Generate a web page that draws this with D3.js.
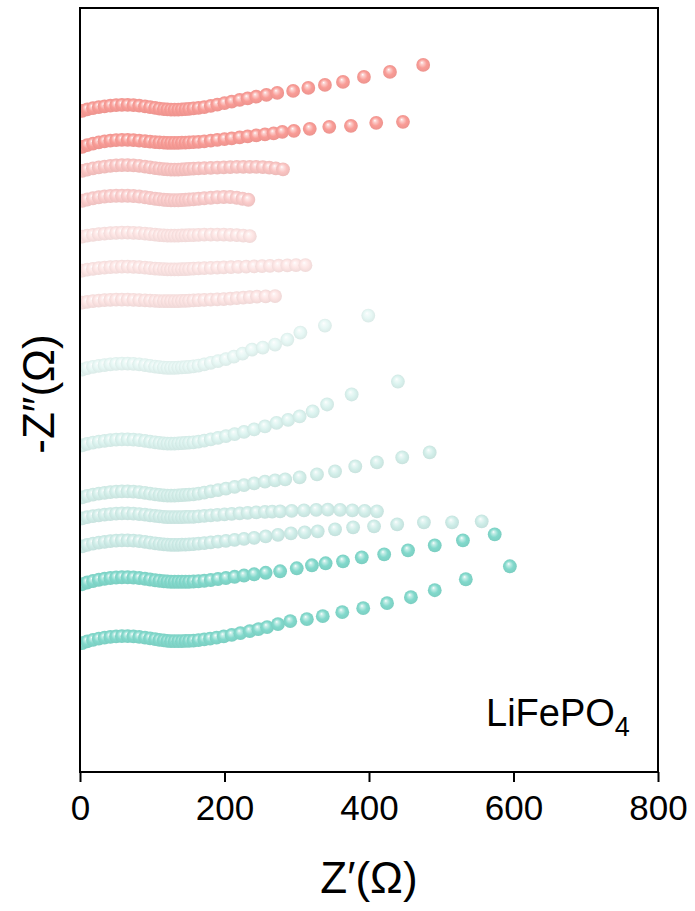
<!DOCTYPE html>
<html>
<head>
<meta charset="utf-8">
<script src="https://cdn.jsdelivr.net/npm/d3@7/dist/d3.min.js"></script>
<style>
  body { margin: 0; background: #fff; }
  text { font-family: "Liberation Sans", Arial, sans-serif; fill: #000; }
</style>
</head>
<body>
<svg id="chart" width="695" height="911"></svg>
<script>
// Stacked Nyquist plots, each curve is [Z', -Z''] in ohms, shifted up by its offset.
const xTicks = [0, 200, 400, 600, 800];
const xTickLabels = ["0", "200", "400", "600", "800"];

const series1 = [[3,0],[10,6],[18,11],[26,15],[34,18],[42,21],[50,23],[58,24],[66,24],[74,23],[82,21],[90,18],[97,15],[104,12],[110,9],[116,7],[121,6],[126,5],[131,5],[136,5],[141,6],[146,7],[151,8],[157,10],[164,12],[172,15],[181,20],[190,25],[200,31],[210,37],[221,44],[232,50],[244,57],[258,64],[273,72],[295,80],[316,92],[339,104],[364,116],[393,136],[429,156],[475,184]];
const series2 = [[3,0],[10,7],[18,13],[26,18],[34,22],[42,25],[50,27],[58,28],[66,28],[74,27],[82,25],[90,23],[97,21],[104,19],[110,18],[116,17],[121,16],[126,16],[131,16],[136,16],[141,17],[146,17],[151,18],[157,19],[164,20],[172,22],[181,25],[190,28],[200,31],[210,34],[221,38],[232,42],[244,46],[256,50],[268,54],[280,60],[296,64],[318,72],[345,80],[375,84],[410,96],[447,100]];
const series3 = [[3,0],[10,5],[18,10],[26,14],[34,17],[42,20],[50,22],[58,23],[66,23],[74,22],[82,20],[90,17],[97,14],[104,11],[110,9],[116,7],[121,6],[126,5],[131,5],[136,5],[141,6],[146,7],[151,8],[157,9],[164,10],[172,11],[181,12],[190,13],[199,14],[208,15],[217,16],[226,16],[235,16],[244,16],[253,15],[262,13],[271,10],[281,6]];
const series4 = [[3,0],[10,5],[18,10],[26,14],[34,17],[42,19],[50,20],[58,20],[66,20],[74,19],[82,17],[90,14],[97,11],[104,8],[110,6],[116,4],[121,3],[126,2],[131,2],[136,2],[141,3],[146,4],[151,5],[157,6],[164,8],[172,10],[181,12],[190,14],[199,15],[208,15],[217,12],[225,8],[233,4]];
const series5 = [[3,0],[10,4],[18,7],[26,10],[34,12],[42,14],[50,15],[58,16],[66,16],[74,15],[82,14],[90,12],[97,10],[104,8],[110,6],[116,5],[121,4],[126,4],[131,4],[136,4],[141,5],[146,5],[151,6],[157,6],[164,7],[172,8],[181,8],[190,8],[199,8],[208,7],[217,6],[226,4],[235,2]];
const series6 = [[3,0],[10,4],[18,7],[26,10],[34,12],[42,14],[50,15],[58,16],[66,16],[74,15],[82,14],[90,12],[97,10],[104,8],[110,7],[116,6],[121,5],[126,5],[131,5],[136,5],[141,6],[146,6],[151,7],[157,8],[164,9],[172,10],[181,11],[190,12],[199,13],[209,14],[219,15],[230,16],[241,17],[252,18],[263,19],[275,20],[287,21],[299,22],[312,22]];
const series7 = [[3,0],[10,3],[18,6],[26,8],[34,10],[42,11],[50,12],[58,12],[66,12],[74,11],[82,10],[90,9],[97,8],[104,7],[110,6],[116,6],[121,6],[126,6],[131,6],[136,6],[141,7],[146,7],[151,8],[157,9],[164,10],[172,11],[181,12],[190,13],[199,14],[208,16],[217,18],[226,20],[235,22],[245,24],[257,25],[270,26]];
const series8 = [[3,0],[10,6],[18,11],[26,15],[34,18],[42,21],[50,23],[58,24],[66,24],[74,23],[82,21],[90,18],[97,15],[104,12],[110,10],[116,8],[121,7],[126,7],[131,7],[136,8],[141,9],[146,10],[151,11],[157,13],[164,16],[172,21],[181,27],[191,34],[202,42],[213,52],[225,64],[238,80],[253,88],[270,100],[287,120],[305,148],[339,176],[399,216]];
const series9 = [[3,0],[10,6],[18,11],[26,15],[34,18],[42,21],[50,23],[58,24],[66,24],[74,23],[82,21],[90,18],[97,15],[104,12],[110,10],[116,8],[121,7],[126,7],[131,7],[136,8],[141,9],[146,10],[151,11],[157,12],[164,15],[172,19],[181,24],[191,30],[202,37],[214,45],[227,54],[241,64],[256,76],[272,90],[288,102],[304,116],[322,136],[342,164],[376,204],[440,256]];
const series10 = [[3,0],[10,6],[18,11],[26,15],[34,18],[42,21],[50,23],[58,24],[66,24],[74,23],[82,21],[90,18],[97,15],[104,12],[110,10],[116,8],[121,7],[126,7],[131,7],[136,8],[141,9],[146,10],[151,11],[157,12],[164,15],[172,19],[181,24],[191,29],[202,35],[214,42],[227,49],[241,56],[256,63],[270,68],[284,72],[304,80],[328,92],[353,104],[381,124],[411,140],[446,160],[484,180]];
const series11 = [[3,0],[10,5],[18,9],[26,12],[34,15],[42,17],[50,19],[58,20],[66,20],[74,19],[82,17],[90,15],[97,12],[104,10],[110,8],[116,6],[121,5],[126,5],[131,5],[136,5],[141,5],[146,6],[151,6],[157,6],[164,8],[172,10],[181,12],[190,14],[200,16],[210,18],[221,20],[232,22],[244,24],[256,26],[266,27],[277,28],[293,30],[310,32],[327,34],[343,35],[360,34],[377,32],[394,30],[411,28]];
const series12 = [[3,0],[10,6],[18,11],[26,15],[34,18],[42,21],[50,23],[58,24],[66,24],[74,23],[82,21],[90,18],[97,15],[104,12],[110,10],[116,8],[121,7],[126,6],[131,6],[136,6],[141,7],[146,7],[151,8],[157,9],[164,11],[172,13],[181,16],[191,19],[202,22],[214,26],[227,30],[241,34],[257,40],[274,46],[292,52],[311,56],[329,60],[353,68],[378,76],[407,80],[439,88],[476,96],[515,96],[556,100]];
const series13 = [[3,0],[10,7],[18,13],[26,18],[34,22],[42,25],[50,27],[58,28],[66,28],[74,27],[82,25],[90,22],[97,19],[104,16],[110,14],[116,12],[121,11],[126,10],[131,10],[136,10],[141,10],[146,10],[151,10],[157,11],[164,12],[172,14],[181,17],[191,21],[202,25],[214,30],[227,35],[241,40],[257,46],[277,52],[300,64],[321,76],[340,84],[364,92],[390,108],[421,120],[454,136],[491,156],[530,176],[574,200]];
const series14 = [[3,0],[10,7],[18,13],[26,18],[34,22],[42,25],[50,27],[58,28],[66,28],[74,27],[82,25],[90,22],[97,19],[104,16],[110,13],[116,11],[121,9],[126,8],[131,8],[136,8],[141,8],[146,9],[151,9],[157,10],[164,12],[172,15],[180,18],[189,22],[199,27],[210,33],[222,40],[235,48],[247,56],[259,64],[274,76],[291,88],[314,96],[336,108],[363,124],[392,140],[425,160],[458,184],[491,212],[534,256],[595,308]];

const seriesList = [series1, series2, series3, series4, series5, series6, series7,
                    series8, series9, series10, series11, series12, series13, series14];
// vertical shift applied to each curve so the stack does not overlap
const offsets = [2648, 2504, 2408, 2288, 2144, 2008, 1880, 1612, 1308, 1100, 1016, 904, 752, 516];
const colors = ["#F99C96", "#F99C96", "#FAC4C2", "#FBCCCB", "#FDE4E3", "#FDE5E4", "#FCE3E2",
                "#E6F7F4", "#DBF3EF", "#D3EFEA", "#D1EEE9", "#CEEDE8", "#82D9CC", "#82D9CC"];

const W = 695, H = 911;
const margin = { left: 80, right: 37, top: 8, bottom: 139 };
const plotW = W - margin.left - margin.right;
const plotH = H - margin.top - margin.bottom;

const svg = d3.select("#chart");
const defs = svg.append("defs");

const x = d3.scaleLinear().domain([0, 800]).range([margin.left, margin.left + plotW]);
const y = d3.scaleLinear().domain([0, 3060]).range([margin.top + plotH, margin.top]);

// shaded-sphere look for the markers
colors.forEach((c, i) => {
  const g = defs.append("radialGradient")
    .attr("id", "ball" + i)
    .attr("cx", "50%").attr("cy", "50%").attr("r", "55%")
    .attr("fx", "40%").attr("fy", "32%");
  const base = d3.color(c);
  g.append("stop").attr("offset", "0%").attr("stop-color", "#ffffff");
  g.append("stop").attr("offset", "18%").attr("stop-color", d3.interpolateRgb(c, "#ffffff")(0.55));
  g.append("stop").attr("offset", "55%").attr("stop-color", c);
  g.append("stop").attr("offset", "100%").attr("stop-color", base.darker(0.18).formatHex());
});

defs.append("clipPath").attr("id", "plotClip")
  .append("rect")
  .attr("x", margin.left).attr("y", margin.top)
  .attr("width", plotW).attr("height", plotH);

const marks = svg.append("g").attr("clip-path", "url(#plotClip)");
seriesList.forEach((data, i) => {
  marks.append("g")
    .selectAll("circle")
    .data(data)
    .join("circle")
    .attr("cx", d => x(d[0]))
    .attr("cy", d => y(d[1] + offsets[i]))
    .attr("r", 6.9)
    .attr("fill", `url(#ball${i})`);
});

// frame
svg.append("rect")
  .attr("x", margin.left).attr("y", margin.top)
  .attr("width", plotW).attr("height", plotH)
  .attr("fill", "none").attr("stroke", "#000").attr("stroke-width", 2);

// x axis
const xAxis = svg.append("g")
  .attr("transform", `translate(0,${margin.top + plotH})`)
  .call(d3.axisBottom(x).tickValues(xTicks)
    .tickFormat((d, i) => xTickLabels[i]).tickSize(10).tickPadding(13));
xAxis.select(".domain").remove();
xAxis.selectAll("line").attr("stroke", "#000").attr("stroke-width", 2);
xAxis.selectAll("text")
  .style("font-family", '"Liberation Sans", Arial, sans-serif')
  .style("font-size", "35px").attr("fill", "#000");

// axis titles
svg.append("text")
  .attr("x", x(400)).attr("y", 893)
  .attr("text-anchor", "middle")
  .style("font-size", "44px")
  .text("Z\u2032(\u03A9)");

svg.append("text")
  .attr("transform", "translate(54,394) rotate(-90)")
  .attr("text-anchor", "middle")
  .style("font-size", "44px")
  .text("-Z\u2033(\u03A9)");

// material label
const lab = svg.append("text")
  .attr("x", 486).attr("y", 726)
  .style("font-size", "38px");
lab.append("tspan").text("LiFePO");
lab.append("tspan").attr("dy", 10).style("font-size", "27px").text("4");
</script>
</body>
</html>
